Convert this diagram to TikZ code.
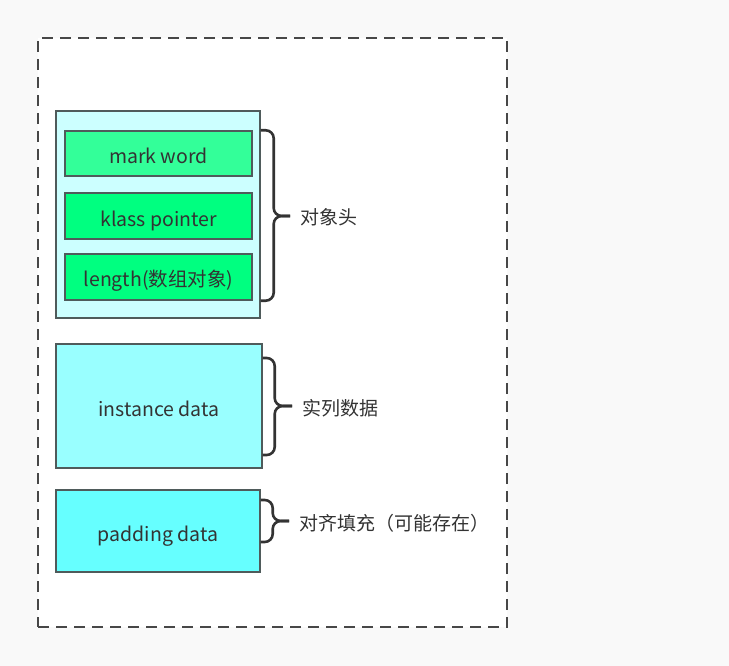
\documentclass[tikz,border=0pt]{standalone}
\usepackage{fontspec}
\setmainfont{Noto Sans CJK SC}
\usepackage{xcolor}
\usepackage{tikz}
\usetikzlibrary{positioning}

\definecolor{pagebg}{HTML}{F9F9F9}
\definecolor{edge}{HTML}{4F5B5B}
\definecolor{txt}{HTML}{333333}
\definecolor{headbg}{HTML}{CCFFFF}
\definecolor{markbg}{HTML}{33FF99}
\definecolor{fieldbg}{HTML}{00FF80}
\definecolor{instbg}{HTML}{99FFFF}
\definecolor{padbg}{HTML}{66FFFF}

\begin{document}
\begin{tikzpicture}[x=1pt, y=-1pt,
    box/.style={draw=edge, line width=1.4pt, text=txt, inner sep=0pt,
        font=\fontsize{19.5}{22}\selectfont, text height=20pt, text depth=0pt},
    bracket/.style={draw=txt, line width=2.6pt, rounded corners=8pt},
    lbl/.style={text=txt, font=\fontsize{19}{22}\selectfont, anchor=west,
        text height=18pt, text depth=0pt}]
    % fondo y marco punteado
    \fill[pagebg] (0,0) rectangle (729,666);
    \node[draw=txt!90, fill=white, line width=1.4pt, dash pattern=on 11pt off 7pt,
        minimum width=469pt, minimum height=589pt, inner sep=0pt] (frame) at (272.5,332.5) {};

    % cabecera del objeto
    \node[box, fill=headbg, minimum width=204pt, minimum height=207pt] (hdr) at (158,214.5) {};
    \node[box, fill=markbg, minimum width=187pt, minimum height=45pt] (mark) at (158.5,153.5) {mark word};
    \node[box, fill=fieldbg, minimum width=187pt, minimum height=46pt] (klass) at (158.5,216) {klass pointer};
    \node[box, fill=fieldbg, minimum width=187pt, minimum height=46pt] (len) at (158.5,277) {length(数组对象)};

    % datos y relleno
    \node[box, fill=instbg, minimum width=206pt, minimum height=124pt] (inst) at (159,406) {instance data};
    \node[box, fill=padbg, minimum width=204pt, minimum height=82pt] (pad) at (158,531) {padding data};

    % llaves
    \coordinate (hdrtip) at (290,216);
    \coordinate (insttip) at (292,406);
    \coordinate (padtip) at (289,521);
    \draw[bracket] (hdr.east |- mark.north) -- ++(13,0) |- (hdrtip);
    \draw[bracket] (hdr.east |- len.south) -- ++(13,0) |- (hdrtip);
    \draw[bracket] (inst.east |- 0,358) -- ++(12,0) |- (insttip);
    \draw[bracket] (inst.east |- 0,455) -- ++(12,0) |- (insttip);
    \draw[bracket] (pad.east |- 0,500) -- ++(12,0) |- (padtip);
    \draw[bracket] (pad.east |- 0,542) -- ++(12,0) |- (padtip);

    % etiquetas
    \node[lbl, right=7pt of hdrtip] (hdrlab) {对象头};
    \node[lbl, right=7pt of insttip] (instlab) {实列数据};
    \node[lbl, right=7pt of padtip] (padlab) {对齐填充（可能存在）};
\end{tikzpicture}
\end{document}
